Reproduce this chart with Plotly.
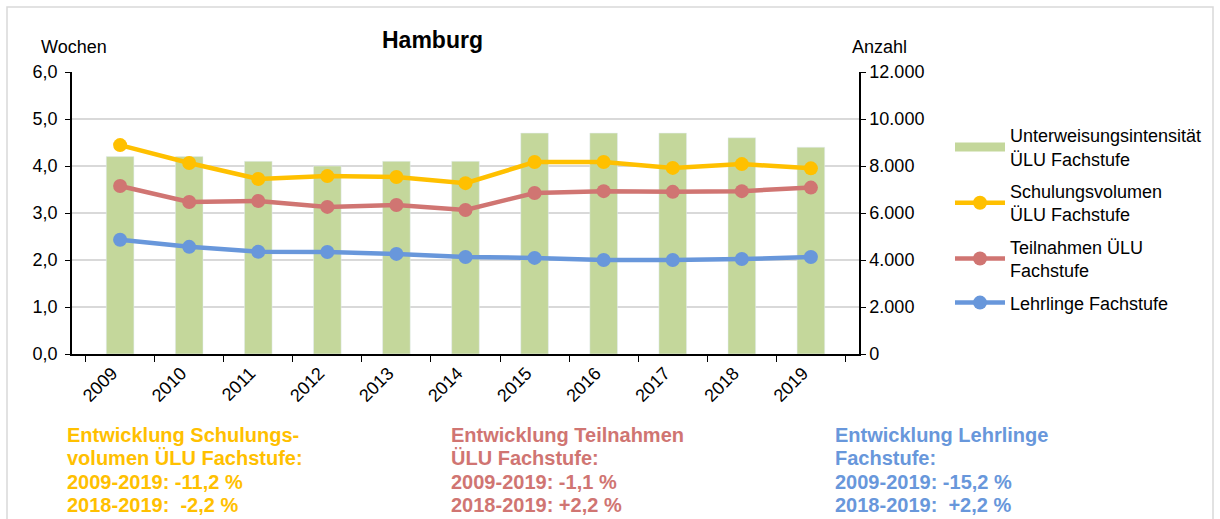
import plotly.graph_objects as go

years = ["2009", "2010", "2011", "2012", "2013", "2014", "2015", "2016", "2017", "2018", "2019"]
intensitaet = [4.2, 4.2, 4.1, 4.0, 4.1, 4.1, 4.7, 4.7, 4.7, 4.6, 4.4]
schulungsvolumen = [8890, 8130, 7450, 7570, 7530, 7270, 8170, 8170, 7920, 8080, 7900]
teilnahmen = [7150, 6470, 6510, 6260, 6340, 6130, 6850, 6930, 6900, 6930, 7080]
lehrlinge = [4860, 4560, 4350, 4340, 4260, 4130, 4090, 4000, 4000, 4040, 4130]

names = ["Unterweisungsintensität<br>ÜLU Fachstufe",
         "Schulungsvolumen<br>ÜLU Fachstufe",
         "Teilnahmen ÜLU<br>Fachstufe",
         "Lehrlinge Fachstufe"]

c_bar = "#C4D79B"
c_yel = "#FFC000"
c_red = "#D07572"
c_blu = "#6897DB"

font_fam = "Liberation Sans, Arial, sans-serif"

fig = go.Figure()
fig.add_trace(go.Bar(x=years, y=intensitaet, name=names[0], marker_color=c_bar,
                     width=0.4, yaxis="y", showlegend=False))
# legend entry for the bars (wide swatch like the original)
fig.add_trace(go.Scatter(x=[None], y=[None], name=names[0], mode="lines",
                         line=dict(color=c_bar, width=9), yaxis="y", legendgroup="a"))
for vals, nm, col, g in [(schulungsvolumen, names[1], c_yel, "b"),
                         (teilnahmen, names[2], c_red, "c"),
                         (lehrlinge, names[3], c_blu, "d")]:
    fig.add_trace(go.Scatter(x=years, y=vals, name=nm, mode="lines+markers",
                             line=dict(color=col, width=4.5),
                             marker=dict(color=col, size=14),
                             yaxis="y2", legendgroup=g))

W, H = 1220, 519
L, R, T, B = 72, 859, 72, 354
pw, ph = R - L, B - T

def px(x):
    return (x - L) / pw

def py(y):
    return (B - y) / ph

annotations = [
    dict(text="<b>Hamburg</b>", x=px(432), y=py(40), font=dict(size=23, color="black")),
    dict(text="Wochen", x=px(74), y=py(47), font=dict(size=18, color="black")),
    dict(text="Anzahl", x=px(880), y=py(47), font=dict(size=18, color="black")),
]

blocks = [
    (65, c_yel, ["Entwicklung Schulungs-", "volumen ÜLU Fachstufe:", "2009-2019: -11,2 %", "2018-2019:  -2,2 %"]),
    (449, c_red, ["Entwicklung Teilnahmen", "ÜLU Fachstufe:", "2009-2019: -1,1 %", "2018-2019: +2,2 %"]),
    (833, c_blu, ["Entwicklung Lehrlinge", "Fachstufe:", "2009-2019: -15,2 %", "2018-2019:  +2,2 %"]),
]
line_y = [435, 458, 482, 505]
for x0, col, lines in blocks:
    for yy, t in zip(line_y, lines):
        annotations.append(dict(text="<b>" + t.replace("  ", "&nbsp; ") + "</b>",
                                x=px(x0), y=py(yy), xanchor="left",
                                font=dict(size=20, color=col)))

for a in annotations:
    a.setdefault("xanchor", "center")
    a["yanchor"] = "middle"
    a["xref"] = "paper"
    a["yref"] = "paper"
    a["showarrow"] = False
    a["font"]["family"] = font_fam

fig.update_layout(
    width=W, height=H,
    margin=dict(l=L, r=W - R, t=T, b=H - B),
    paper_bgcolor="white", plot_bgcolor="white",
    separators=",.",
    font=dict(family=font_fam, size=15, color="black"),
    showlegend=True,
    legend=dict(x=px(950), y=py(117), xanchor="left", yanchor="top",
                font=dict(size=18, color="black"), itemwidth=50,
                tracegroupgap=6, bgcolor="rgba(0,0,0,0)"),
    bargap=0.6,
    xaxis=dict(type="category", showline=True, linecolor="black", linewidth=1.5,
               ticks="outside", ticklen=6, tickcolor="black", tickson="boundaries",
               tickangle=-45, tickfont=dict(size=18), showgrid=False,
               ticklabelshift=-8),
    yaxis=dict(range=[0, 6], dtick=1, tickformat=".1f", showline=True,
               linecolor="black", linewidth=1.5, ticks="outside", ticklen=5,
               tickcolor="black", showgrid=True, gridcolor="#D9D9D9", gridwidth=1.5,
               tickfont=dict(size=18), zeroline=False, ticklabelstandoff=4),
    yaxis2=dict(range=[0, 12000], dtick=2000, tickformat=",.0f", overlaying="y",
                side="right", showline=True, linecolor="black", linewidth=1.5,
                ticks="outside", ticklen=5, tickcolor="black", showgrid=False,
                tickfont=dict(size=18), zeroline=False),
    annotations=annotations,
    shapes=[dict(type="rect", xref="paper", yref="paper",
                 x0=px(7), x1=px(1213), y0=py(540), y1=py(7),
                 line=dict(color="#D9D9D9", width=1.5), layer="below")],
)

fig.write_html("out.html", config={"displayModeBar": False},
               post_script="document.body.style.margin='0';document.body.style.overflow='hidden';")
